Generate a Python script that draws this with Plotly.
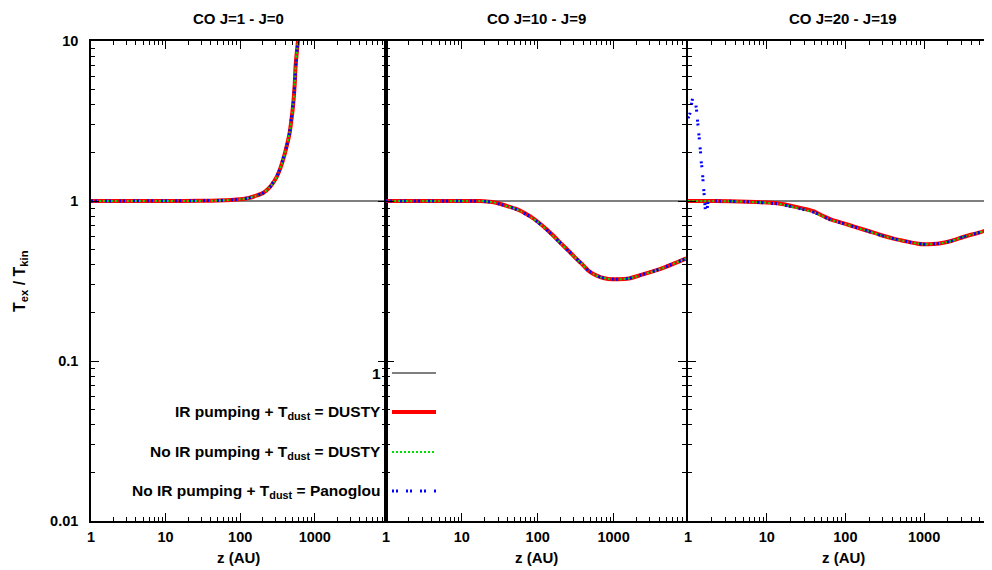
import plotly.graph_objects as go

# ---------------- data ----------------
# Panel 1: CO J=1 - J=0
z1 = [1, 3, 10, 30, 50, 100, 130, 160, 205, 250, 280, 310, 345, 381, 420, 459, 490, 520, 540, 552, 570, 595, 640]
ir1 = [1.0, 1.0, 1.0, 1.002, 1.006, 1.025, 1.045, 1.075, 1.127, 1.22, 1.31, 1.42, 1.6, 1.85, 2.2, 2.65, 3.3, 4.28, 5.5, 6.9, 8.2, 10.0, 15.0]
noir1 = [1.0, 1.0, 1.0, 1.002, 1.006, 1.025, 1.045, 1.074, 1.125, 1.22, 1.31, 1.42, 1.6, 1.85, 2.2, 2.65, 3.3, 4.28, 5.5, 6.9, 8.2, 10.0, 15.0]
pano1 = [1.0, 1.0, 1.0, 1.002, 1.006, 1.025, 1.045, 1.074, 1.125, 1.22, 1.31, 1.42, 1.6, 1.85, 2.2, 2.65, 3.3, 4.28, 5.5, 6.9, 8.2, 10.0, 15.0]

# Panel 2: CO J=10 - J=9
z2 = [1, 5, 10, 17.6, 25, 30, 39.7, 50, 60, 80.7, 100, 134, 165, 202, 250, 303, 370, 455, 550, 683, 850, 1137,
      1600, 2312, 3300, 4710, 9120]
ir2 = [1.0, 1.0, 1.0, 1.0, 0.985, 0.968, 0.93, 0.898, 0.865, 0.798, 0.742, 0.659, 0.6, 0.544, 0.493, 0.449, 0.41,
       0.371, 0.348, 0.333, 0.326, 0.324, 0.328, 0.345, 0.363, 0.385, 0.438]
noir2 = [1.0, 1.0, 1.0, 1.0, 0.985, 0.966, 0.928, 0.895, 0.862, 0.795, 0.739, 0.655, 0.597, 0.542, 0.492, 0.449,
         0.41, 0.371, 0.348, 0.333, 0.326, 0.324, 0.328, 0.345, 0.363, 0.385, 0.438]
pano2 = [1.0, 1.0, 1.0, 1.0, 0.985, 0.966, 0.928, 0.895, 0.862, 0.795, 0.739, 0.655, 0.597, 0.542, 0.492, 0.449,
         0.41, 0.371, 0.348, 0.333, 0.326, 0.324, 0.328, 0.345, 0.363, 0.385, 0.438]

# Panel 3: CO J=20 - J=19
z3 = [1, 2.14, 5.69, 13.7, 22.2, 39.9, 45, 65, 100, 129, 200, 281, 420, 613, 800, 998, 1300, 1624, 2200, 3214,
      5000, 7380, 9000]
ir3 = [1.0, 1.0, 0.99, 0.967, 0.925, 0.862, 0.835, 0.768, 0.72, 0.691, 0.647, 0.613, 0.58, 0.557, 0.543, 0.536,
       0.538, 0.544, 0.562, 0.598, 0.635, 0.675, 0.69]
noir3 = [1.0, 1.0, 0.99, 0.962, 0.915, 0.85, 0.828, 0.762, 0.717, 0.688, 0.645, 0.611, 0.579, 0.556, 0.543, 0.536,
         0.538, 0.544, 0.562, 0.598, 0.635, 0.675, 0.69]
z3_pano = [1.0, 1.06, 1.14, 1.25, 1.28, 1.32, 1.34, 1.38, 1.42, 1.45, 1.48, 1.52, 1.55, 1.60, 1.63, 1.66, 1.73, 1.8,
           2.14, 5.69, 13.7, 22.2, 39.9, 45, 65, 100, 129, 200, 281, 420, 613, 800, 998, 1300, 1624, 2200, 3214,
           5000, 7380, 9000]
pano3 = [3.29, 3.53, 4.36, 4.04, 3.76, 3.25, 3.02, 2.61, 2.10, 1.97, 1.70, 1.58, 1.35, 1.10, 1.0, 0.88, 0.85, 1.0,
         1.0, 0.99, 0.962, 0.915, 0.85, 0.828, 0.762, 0.717, 0.688, 0.645, 0.611, 0.579, 0.556, 0.543, 0.536,
         0.538, 0.544, 0.562, 0.598, 0.635, 0.675, 0.69]

# constant reference "1"
one_x = [1, 10000]
one_y = [1, 1]

titles = ["CO J=1 - J=0", "CO J=10 - J=9", "CO J=20 - J=19"]
x_tickvals = [1, 10, 100, 1000]
x_ticktext = ["1", "10", "100", "1000"]
y_tickvals = [0.01, 0.1, 1, 10]
y_ticktext = ["0.01", "0.1", "1", "10"]
legend_labels = ["1",
                 "IR pumping + T<sub>dust</sub> = DUSTY",
                 "No IR pumping + T<sub>dust</sub> = DUSTY",
                 "No IR pumping + T<sub>dust</sub> = Panoglou"]

# ---------------- styles ----------------
OFF = 8  # page body margin of the html page
W, H = 992 - OFF, 570 - OFF
ML, MR, MT, MB = 91 - OFF, 0, 41 - OFF, 49
PW = W - ML - MR
PH = H - MT - MB
FONT = "Liberation Sans, Arial, Helvetica, sans-serif"
RED = "#ff0000"
GREEN = "#00e000"
BLUE = "#0000ff"


def px_x(px):
    return (px - OFF - ML) / PW


def px_y(py):
    return (H + OFF - MB - py) / PH


panels = [
    dict(x0=91, x1=386, xr=3.955, mirror_y="allticks"),
    dict(x0=386, x1=686, xr=3.955, mirror_y="allticks"),
    dict(x0=688, x1=992, xr=3.863, mirror_y=False),
]

minor_vals = [d * 10 ** e for e in range(-2, 4) for d in range(2, 10)]

fig = go.Figure()

data_sets = [
    (z1, ir1, z1, noir1, z1, pano1),
    (z2, ir2, z2, noir2, z2, pano2),
    (z3, ir3, z3, noir3, z3_pano, pano3),
]

for i, (zr, r, zg, g, zb, b) in enumerate(data_sets):
    n = "" if i == 0 else str(i + 1)
    xa, ya = "x" + n, "y" + n
    fig.add_trace(go.Scatter(x=one_x, y=one_y, mode="lines", xaxis=xa, yaxis=ya,
                             line=dict(color="black", width=1.2), showlegend=False))
    fig.add_trace(go.Scatter(x=zr, y=r, mode="lines", xaxis=xa, yaxis=ya,
                             line=dict(color=RED, width=4, shape="spline", smoothing=0.6), showlegend=False))
    fig.add_trace(go.Scatter(x=zg, y=g, mode="lines", xaxis=xa, yaxis=ya,
                             line=dict(color=GREEN, width=2, dash="2px,2px", shape="spline", smoothing=0.6),
                             showlegend=False))
    fig.add_trace(go.Scatter(x=zb, y=b, mode="lines", xaxis=xa, yaxis=ya,
                             line=dict(color=BLUE, width=3, dash="2px,2px,2px,8px"), showlegend=False))

tickfont = dict(family=FONT, size=14.5, color="black", weight="bold")
layout = dict(width=W, height=H, margin=dict(l=ML, r=MR, t=MT, b=MB, pad=0),
              paper_bgcolor="white", plot_bgcolor="white", showlegend=False)

for i, p in enumerate(panels):
    n = "" if i == 0 else str(i + 1)
    layout["xaxis" + n] = dict(
        type="log", range=[0, p["xr"]], domain=[px_x(p["x0"]), px_x(p["x1"])],
        anchor="y" + n, showline=True, linecolor="black", linewidth=1.5,
        mirror="allticks", ticks="inside", ticklen=8, tickwidth=1.2, tickcolor="black",
        tickvals=x_tickvals, ticktext=x_ticktext, tickfont=tickfont,
        ticklabelstandoff=2, showgrid=False, zeroline=False,
        minor=dict(ticks="inside", ticklen=4, tickwidth=1, tickcolor="black",
                   tickvals=minor_vals, showgrid=False),
    )
    layout["yaxis" + n] = dict(
        type="log", range=[-2, 1], domain=[0, 1], anchor="x" + n,
        showline=True, linecolor="black", linewidth=1.5,
        mirror=p["mirror_y"], ticks="inside", ticklen=8, tickwidth=1.2, tickcolor="black",
        tickvals=y_tickvals, ticktext=y_ticktext, tickfont=tickfont,
        showticklabels=(i == 0), ticklabelstandoff=8, showgrid=False, zeroline=False,
        minor=dict(ticks="inside", ticklen=4, tickwidth=1, tickcolor="black",
                   tickvals=minor_vals, showgrid=False),
    )

fig.update_layout(**layout)

ann = []
bold = dict(family=FONT, size=15, color="black", weight="bold")
for i, p in enumerate(panels):
    cx = [238, 536, 843][i]
    ann.append(dict(text=titles[i], x=px_x(cx), y=px_y(18), xref="paper", yref="paper",
                    xanchor="center", yanchor="middle", showarrow=False, borderpad=0,
                    font=dict(family=FONT, size=15, color="black", weight="bold")))
    ann.append(dict(text="z (AU)", x=px_x(cx), y=px_y(557), xref="paper", yref="paper",
                    xanchor="center", yanchor="middle", showarrow=False, borderpad=0, font=bold))

ann.append(dict(text="T<sub>ex</sub> / T<sub>kin</sub>", x=px_x(20), y=px_y(281),
                xref="paper", yref="paper", xanchor="center", yanchor="middle",
                textangle=-90, showarrow=False,
                font=dict(family=FONT, size=16, color="black", weight="bold")))

leg_y = [373, 412, 452, 491]
leg_styles = [dict(color="black", width=1.2),
              dict(color=RED, width=4),
              dict(color=GREEN, width=2, dash="2px,2px"),
              dict(color=BLUE, width=3, dash="2px,2px,2px,8px")]
shapes = []
for lab, ly, st in zip(legend_labels, leg_y, leg_styles):
    ann.append(dict(text=lab, x=px_x(383), y=px_y(ly), xref="paper", yref="paper",
                    xanchor="right", yanchor="middle", showarrow=False,
                    font=dict(family=FONT, size=15.5, color="black", weight="bold")))
    shapes.append(dict(type="line", xref="paper", yref="paper",
                       x0=px_x(392), x1=px_x(436), y0=px_y(ly), y1=px_y(ly), line=st))

fig.update_layout(annotations=ann, shapes=shapes)
fig.write_html("out.html")
